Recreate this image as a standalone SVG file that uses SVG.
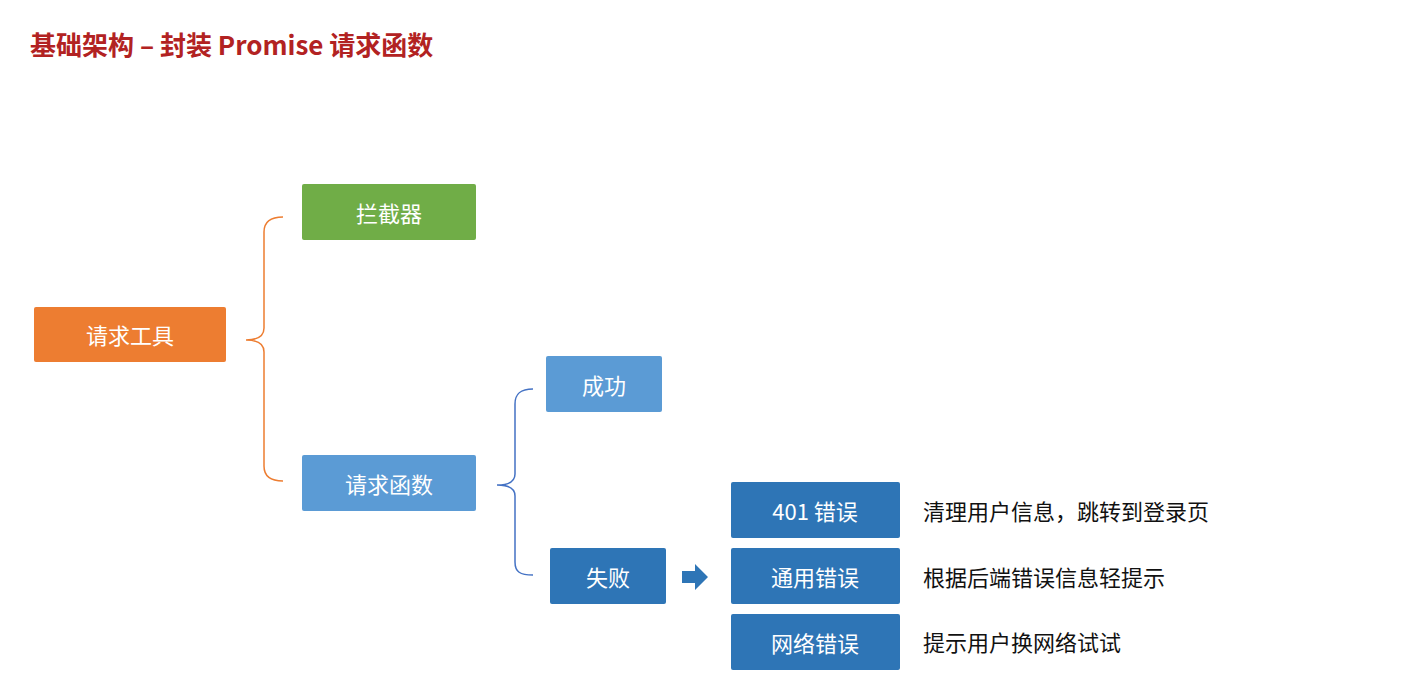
<svg xmlns="http://www.w3.org/2000/svg" width="1405" height="677" viewBox="0 0 1405 677">
<style>
text{font-family:"Noto Sans CJK SC","Noto Sans",sans-serif;}
.b text{fill:#fff;font-size:22px;text-anchor:middle;dominant-baseline:central}
.n{font-size:22px;fill:#111;dominant-baseline:central}
</style>
<rect width="1405" height="677" fill="#fff"/>
<text x="30" y="43" font-size="26" font-weight="bold" fill="#b22222" dominant-baseline="central">基础架构 – 封装 Promise 请求函数</text>
<g id="connectors" fill="none" stroke-width="1.5">
<path d="M283,217 C270,217 264,222 264,232 L264,328 C264,336 258,340 246,340 C258,340 264,344 264,352 L264,466 C264,476 270,481 283,481" stroke="#ed7d31"/>
<path d="M533,389 C520,389 515,394 515,404 L515,474 C515,481 509,485 497,485 C509,485 515,489 515,496 L515,562 C515,572 520,575 533,575" stroke="#4472c4"/>
<polygon points="682,571 695,571 695,564 708,577 695,590 695,583 682,583" fill="#2e75b6" stroke="none"/>
</g>
<g id="n1" class="b"><rect x="34" y="307" width="192" height="55" rx="2" fill="#ed7d31"/><text x="130" y="334">请求工具</text></g>
<g id="n2" class="b"><rect x="302" y="184" width="174" height="56" rx="2" fill="#70ad47"/><text x="389" y="212">拦截器</text></g>
<g id="n3" class="b"><rect x="302" y="455" width="174" height="56" rx="2" fill="#5b9bd5"/><text x="389" y="483">请求函数</text></g>
<g id="n4" class="b"><rect x="546" y="356" width="116" height="56" rx="2" fill="#5b9bd5"/><text x="604" y="384">成功</text></g>
<g id="n5" class="b"><rect x="550" y="548" width="116" height="56" rx="2" fill="#2e75b6"/><text x="608" y="576">失败</text></g>
<g id="n6" class="b"><rect x="731" y="482" width="169" height="56" rx="2" fill="#2e75b6"/><text x="815" y="510">401 错误</text></g>
<g id="n7" class="b"><rect x="731" y="548" width="169" height="56" rx="2" fill="#2e75b6"/><text x="815" y="576">通用错误</text></g>
<g id="n8" class="b"><rect x="731" y="614" width="169" height="56" rx="2" fill="#2e75b6"/><text x="815" y="642">网络错误</text></g>
<text class="n" x="923" y="510">清理用户信息，跳转到登录页</text>
<text class="n" x="923" y="576">根据后端错误信息轻提示</text>
<text class="n" x="923" y="641">提示用户换网络试试</text>
</svg>
